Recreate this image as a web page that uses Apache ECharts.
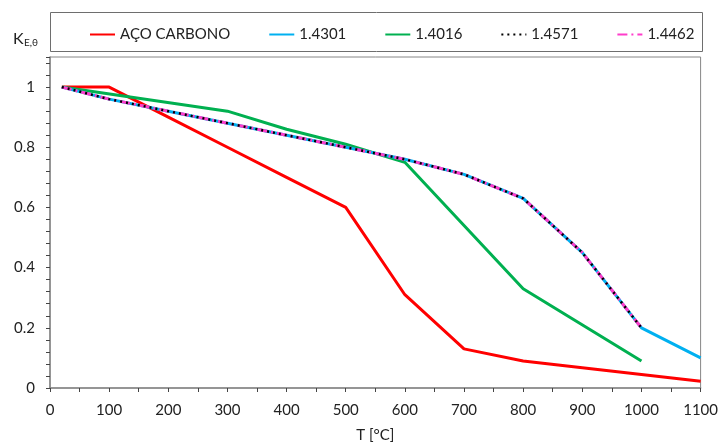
<!DOCTYPE html>
<html><head><meta charset="utf-8">
<script src="https://cdn.jsdelivr.net/npm/echarts@6/dist/echarts.min.js"></script>
<style>html,body{margin:0;padding:0;background:#fff}#c{width:721px;height:448px}</style>
</head><body><div id="c"></div>
<script>
var seriesNames = ['AÇO CARBONO', '1.4301', '1.4016', '1.4571', '1.4462'];
var acoT = [20, 100, 200, 300, 400, 500, 600, 700, 800, 900, 1000, 1100];
var acoK = [1, 1, 0.9, 0.8, 0.7, 0.6, 0.31, 0.13, 0.09, 0.0675, 0.045, 0.0225];
var s4301T = [20, 100, 200, 300, 400, 500, 600, 700, 800, 900, 1000, 1100];
var s4301K = [1, 0.96, 0.92, 0.88, 0.84, 0.80, 0.76, 0.71, 0.63, 0.45, 0.20, 0.10];
var s4016T = [20, 300, 400, 500, 600, 800, 1000];
var s4016K = [1, 0.92, 0.86, 0.81, 0.75, 0.33, 0.09];
var s4571T = [20, 100, 200, 300, 400, 500, 600, 700, 800, 900, 1000];
var s4571K = [1, 0.96, 0.92, 0.88, 0.84, 0.80, 0.76, 0.71, 0.63, 0.45, 0.20];
var s4462T = [20, 100, 200, 300, 400, 500, 600, 700, 800, 900, 1000];
var s4462K = [1, 0.96, 0.92, 0.88, 0.84, 0.80, 0.76, 0.71, 0.63, 0.45, 0.20];
var yLabels = [0, 0.2, 0.4, 0.6, 0.8, 1];
var xLabels = [0, 100, 200, 300, 400, 500, 600, 700, 800, 900, 1000, 1100];

function pairs(t, k) { return t.map(function (v, i) { return [v, k[i]]; }); }
var FONT = 'Lato';
var GRAY = '#868686';

var chart = echarts.init(document.getElementById('c'), null, {renderer: 'canvas'});
chart.setOption({
  animation: false,
  backgroundColor: '#fff',
  textStyle: {fontFamily: FONT},
  grid: {left: 50, right: 18, top: 57, bottom: 56, show: true, borderColor: GRAY, borderWidth: 1},
  legend: {
    data: seriesNames,
    left: 84, top: 22,
    itemWidth: 25, itemHeight: 3, itemGap: 38,
    itemStyle: {opacity: 0},
    textStyle: {fontFamily: FONT, fontSize: 15, color: '#222'},
    selectedMode: false
  },
  graphic: [
    {type: 'rect', shape: {x: 50.5, y: 12.5, width: 652, height: 39}, style: {fill: 'none', stroke: '#6e6e6e', lineWidth: 1}, z: 0},
    {type: 'text', left: 13, top: 31, style: {text: 'K', font: '16px Lato', fill: '#222'}},
    {type: 'text', left: 24, top: 38, style: {text: 'E,θ', font: '10px Lato', fill: '#222'}}
  ],
  xAxis: {
    type: 'value', min: 0, max: 1100, interval: 50,
    name: 'T [°C]', nameLocation: 'middle', nameGap: 40,
    nameTextStyle: {fontFamily: FONT, fontSize: 15, color: '#222'},
    axisLine: {lineStyle: {color: GRAY, width: 1.5}},
    axisTick: {show: true, length: 4, lineStyle: {color: '#444'}},
    splitLine: {show: false},
    axisLabel: {
      margin: 15, fontFamily: FONT, fontSize: 15, color: '#222',
      formatter: function (v) { return xLabels.indexOf(Math.round(v)) >= 0 && Math.abs(v % 100) < 1e-6 ? String(v) : ''; }
    }
  },
  yAxis: {
    type: 'value', min: 0, max: 1.1, interval: 0.04,
    axisLine: {show: true, lineStyle: {color: GRAY, width: 1.5}},
    axisTick: {show: true, length: 4, lineStyle: {color: '#444'}},
    splitLine: {show: false},
    axisLabel: {
      margin: 15, fontFamily: FONT, fontSize: 15, color: '#222',
      formatter: function (v) {
        for (var i = 0; i < yLabels.length; i++) { if (Math.abs(v - yLabels[i]) < 1e-6) return String(yLabels[i]); }
        return '';
      }
    }
  },
  series: [
    {name: seriesNames[0], type: 'line', data: pairs(acoT, acoK), showSymbol: false, symbol: 'none', z: 2,
     lineStyle: {color: '#FF0000', width: 3}, itemStyle: {color: '#FF0000'}},
    {name: seriesNames[1], type: 'line', data: pairs(s4301T, s4301K), showSymbol: false, symbol: 'none', z: 3,
     lineStyle: {color: '#00B0F0', width: 3}, itemStyle: {color: '#00B0F0'}},
    {name: seriesNames[2], type: 'line', data: pairs(s4016T, s4016K), showSymbol: false, symbol: 'none', z: 2,
     lineStyle: {color: '#00B050', width: 3}, itemStyle: {color: '#00B050'}},
    {name: seriesNames[4], type: 'line', data: pairs(s4462T, s4462K), showSymbol: false, symbol: 'none', z: 4,
     lineStyle: {color: '#FF3DCB', width: 3, type: [10, 4, 2, 4]}, itemStyle: {color: '#FF3DCB'}},
    {name: seriesNames[3], type: 'line', data: pairs(s4571T, s4571K), showSymbol: false, symbol: 'none', z: 5,
     lineStyle: {color: '#000000', width: 2.5, type: [2, 4]}, itemStyle: {color: '#000000'}}
  ]
});
</script></body></html>
